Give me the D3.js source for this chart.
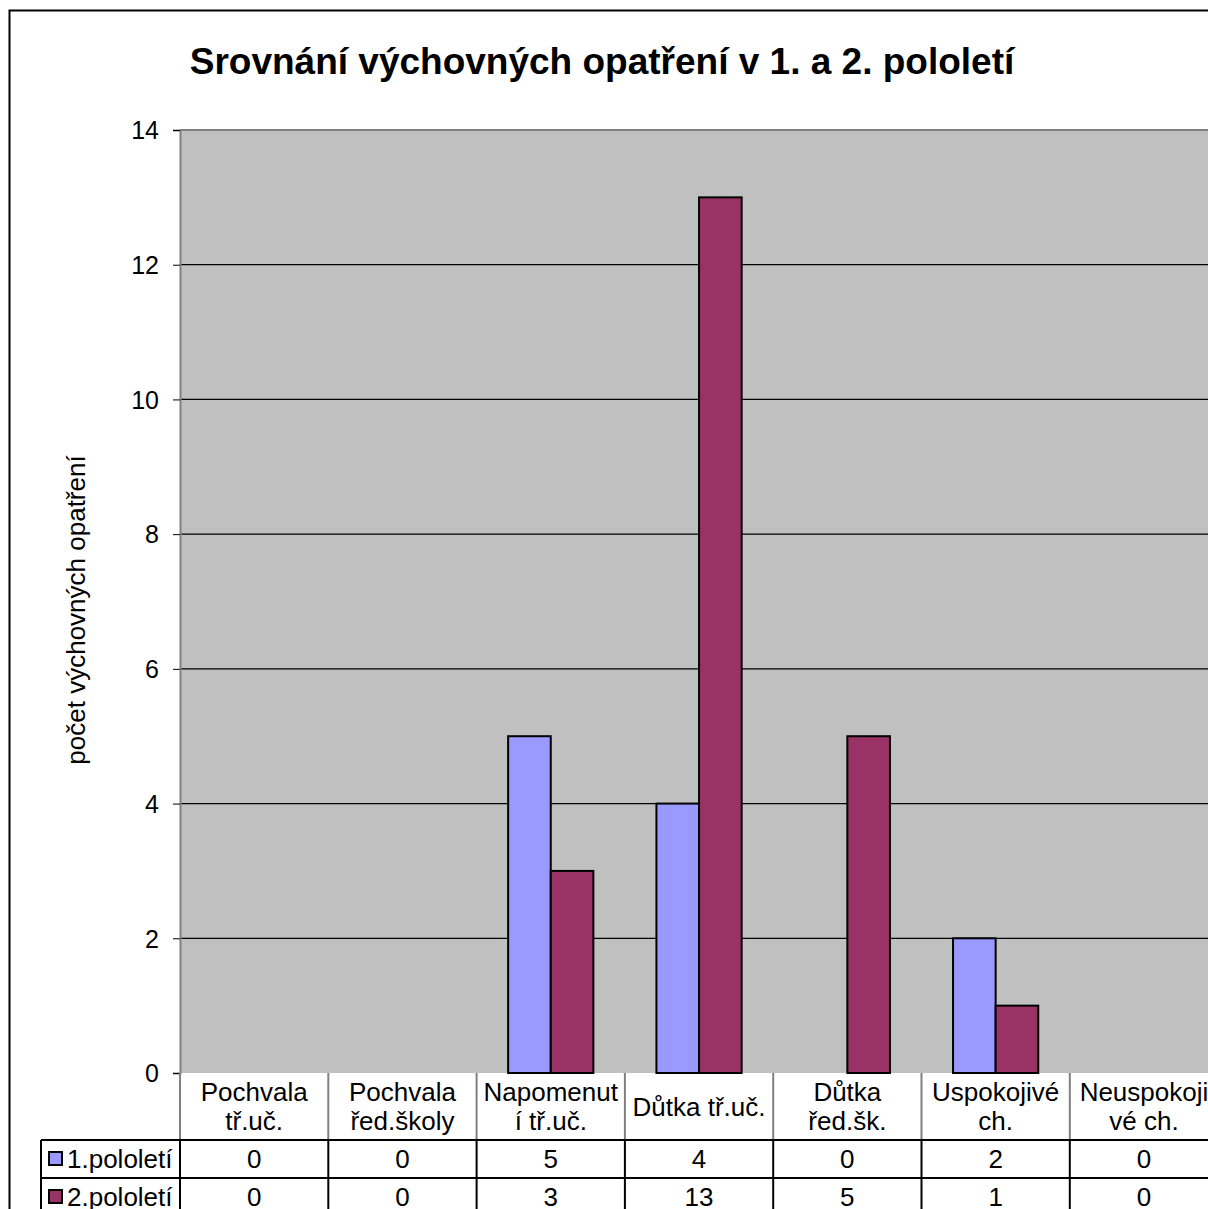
<html>
<head>
  <title>Srovnání výchovných opatření</title>
  <script src="https://d3js.org/d3.v7.min.js"></script>
  <style>
    body { margin: 0; background: #fff; }
    text { font-family: "Liberation Sans", Arial, sans-serif; fill: #000; }
  </style>
</head>
<body>
<script>
  // data
  var categories = [
    ["Pochvala", "tř.uč."],
    ["Pochvala", "řed.školy"],
    ["Napomenut", "í tř.uč."],
    ["Důtka tř.uč."],
    ["Důtka", "řed.šk."],
    ["Uspokojivé", "ch."],
    ["Neuspokoji", "vé ch."]
  ]
  var seriesNames = ["1.pololetí", "2.pololetí"]
  var sem1 = [0, 0, 5, 4, 0, 2, 0]
  var sem2 = [0, 0, 3, 13, 5, 1, 0]
  var yTicks = [0, 2, 4, 6, 8, 10, 12, 14]
  var colors = ["#9999ff", "#993366"]

  var W = 1208, H = 1209
  var plotLeft = 180, plotTop = 130, plotBottom = 1073
  var band = 148.3
  var plotRight = plotLeft + band * categories.length

  var svg = d3.select('body').append('svg')
      .attr('width', W).attr('height', H)

  // outer border
  svg.append('rect')
      .attr('x', 9.5).attr('y', 10.5)
      .attr('width', 1300).attr('height', 1300)
      .attr('fill', '#fff').attr('stroke', '#000').attr('stroke-width', 2)

  // title
  svg.append('text')
      .attr('x', 602).attr('y', 74)
      .attr('text-anchor', 'middle')
      .style('font-size', '37px').style('font-weight', 'bold')
      .text('Srovnání výchovných opatření v 1. a 2. pololetí')

  // scales
  var x = d3.scaleBand()
      .domain(d3.range(categories.length))
      .range([plotLeft, plotRight])
  var y = d3.scaleLinear().domain([0, 14]).range([plotBottom, plotTop])
  var inner = d3.scaleBand().domain([0, 1])
      .range([0, x.bandwidth()]).paddingOuter(0.74).paddingInner(0)

  // plot area
  svg.append('rect')
      .attr('x', plotLeft).attr('y', plotTop)
      .attr('width', plotRight - plotLeft).attr('height', plotBottom - plotTop)
      .attr('fill', '#c0c0c0')

  // gridlines
  svg.append('g').selectAll('line')
      .data(yTicks.filter(function (d) { return d > 0 && d < 14 }))
      .enter().append('line')
      .attr('x1', plotLeft).attr('x2', plotRight)
      .attr('y1', function (d) { return y(d) }).attr('y2', function (d) { return y(d) })
      .attr('stroke', '#000').attr('stroke-width', 1.2)
  svg.append('line')
      .attr('x1', plotLeft).attr('x2', plotRight)
      .attr('y1', y(14)).attr('y2', y(14))
      .attr('stroke', '#808080').attr('stroke-width', 2)

  // bars
  var series = [sem1, sem2]
  series.forEach(function (vals, s) {
    var pts = vals.map(function (v, i) { return { v: v, i: i } })
        .filter(function (d) { return d.v > 0 })
    svg.append('g').selectAll('rect')
        .data(pts)
        .enter().append('rect')
        .attr('x', function (d) { return x(d.i) + inner(s) })
        .attr('y', function (d) { return y(d.v) })
        .attr('width', inner.bandwidth())
        .attr('height', function (d) { return y(0) - y(d.v) })
        .attr('fill', colors[s])
        .attr('stroke', '#000').attr('stroke-width', 2)
  })

  // y axis
  var yAxis = d3.axisLeft(y).tickValues(yTicks).tickSize(7).tickPadding(14)
  var gy = svg.append('g')
      .attr('transform', 'translate(' + plotLeft + ',0)')
      .call(yAxis)
  gy.attr('font-family', null).attr('font-size', null)
  gy.select('.domain').attr('stroke', '#808080').attr('stroke-width', 2)
  gy.selectAll('.tick line').attr('stroke', '#000')
  gy.selectAll('.tick text')
      .style('font-size', '25px')
      .attr('dy', '0.35em')

  // y label
  svg.append('text')
      .attr('transform', 'translate(85,610) rotate(-90)')
      .attr('text-anchor', 'middle')
      .style('font-size', '26px')
      .text('počet výchovných opatření')

  // data table
  var rowY = [plotBottom, 1140, 1178, 1216]
  var tableLeft = 41
  var fs = '26px'
  var tg = svg.append('g')
  // category header separators (gray)
  tg.selectAll('line.hdr')
      .data(d3.range(categories.length + 1))
      .enter().append('line')
      .attr('x1', function (i) { return plotLeft + i * band }).attr('x2', function (i) { return plotLeft + i * band })
      .attr('y1', rowY[0]).attr('y2', rowY[1])
      .attr('stroke', '#808080').attr('stroke-width', 2)
  // row lines
  tg.selectAll('line.row')
      .data(rowY.slice(1))
      .enter().append('line')
      .attr('x1', tableLeft).attr('x2', plotRight)
      .attr('y1', function (d) { return d }).attr('y2', function (d) { return d })
      .attr('stroke', '#000').attr('stroke-width', 2)
  // column lines in data rows
  tg.selectAll('line.col')
      .data([tableLeft].concat(d3.range(categories.length + 1).map(function (i) { return plotLeft + i * band })))
      .enter().append('line')
      .attr('x1', function (d) { return d }).attr('x2', function (d) { return d })
      .attr('y1', rowY[1]).attr('y2', rowY[3])
      .attr('stroke', '#000').attr('stroke-width', 2)

  // category labels
  categories.forEach(function (lines, i) {
    var cx = x(i) + x.bandwidth() / 2
    var t = tg.append('text')
        .attr('text-anchor', 'middle')
        .style('font-size', fs)
    var y0 = lines.length === 1 ? 1116 : 1101
    lines.forEach(function (l, k) {
      t.append('tspan').attr('x', cx).attr('y', y0 + k * 29).text(l)
    })
  })

  // values + legend keys
  series.forEach(function (vals, s) {
    var cy = (rowY[s + 1] + rowY[s + 2]) / 2
    tg.append('rect')
        .attr('x', 49).attr('y', cy - 7)
        .attr('width', 13).attr('height', 13)
        .attr('fill', colors[s]).attr('stroke', '#000').attr('stroke-width', 2)
    tg.append('text')
        .attr('x', 67).attr('y', cy).attr('dy', '0.35em')
        .style('font-size', fs)
        .text(seriesNames[s])
    tg.selectAll(null)
        .data(vals)
        .enter().append('text')
        .attr('x', function (d, i) { return x(i) + x.bandwidth() / 2 })
        .attr('y', cy).attr('dy', '0.35em')
        .attr('text-anchor', 'middle')
        .style('font-size', fs)
        .text(function (d) { return d })
  })
</script>
</body>
</html>
